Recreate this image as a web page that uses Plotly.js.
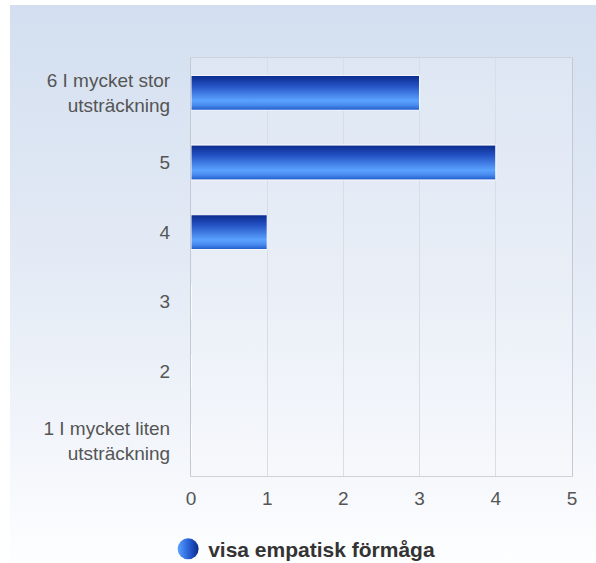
<!DOCTYPE html>
<html>
<head>
<meta charset="utf-8">
<script src="https://cdn.plot.ly/plotly-3.0.1.min.js"></script>
<style>
html,body{margin:0;padding:0;background:#fff;}
#bg{position:absolute;left:10px;top:5px;width:586px;height:558px;
 background:linear-gradient(to bottom,#d3dff0 0%,#e3eaf5 45%,#f3f6fb 80%,#fdfeff 100%);}
#chart{position:absolute;left:0;top:0;width:596px;height:563px;}
</style>
</head>
<body>
<div id="bg"></div>
<div id="chart"></div>
<script>
const categories = ["1 I mycket liten<br>utsträckning", "2", "3", "4", "5", "6 I mycket stor<br>utsträckning"];
const values = [0, 0, 0, 1, 4, 3];
const seriesName = "visa empatisk förmåga";
const xTicks = [0, 1, 2, 3, 4, 5];

const traces = [
  {
    type: 'bar', orientation: 'h',
    y: categories, x: values,
    name: seriesName, showlegend: false,
    marker: {color: '#3a78e0', line: {color: '#ffffff', width: 1}},
    hoverinfo: 'x+y'
  },
  {
    type: 'scatter', mode: 'markers',
    x: [null], y: [null],
    name: seriesName, showlegend: true,
    marker: {symbol: 'circle', size: 16, color: '#2a66d8'}
  }
];

const layout = {
  width: 596, height: 563,
  margin: {l: 191, r: 24, t: 58, b: 87, autoexpand: false},
  paper_bgcolor: 'rgba(0,0,0,0)',
  plot_bgcolor: 'rgba(255,255,255,0.18)',
  bargap: 0.5,
  font: {family: 'Liberation Sans, Arial, sans-serif', size: 19, color: '#555555'},
  xaxis: {
    range: [0, 5], tickvals: xTicks, ticktext: xTicks.map(String),
    showgrid: true, gridcolor: '#d9dde4', gridwidth: 1,
    zeroline: false, showline: true, mirror: true, linecolor: '#cfd2d8', linewidth: 1,
    ticks: '', ticklabelstandoff: 5, fixedrange: true
  },
  yaxis: {
    type: 'category', categoryorder: 'array', categoryarray: categories,
    range: [-0.5, 5.5],
    showgrid: false, zeroline: false, showline: true, mirror: true,
    linecolor: '#c4c8d0', linewidth: 1,
    ticks: '', ticklabelstandoff: 16, fixedrange: true
  },
  showlegend: true,
  legend: {
    orientation: 'h', x: -0.060, xanchor: 'left', y: -0.175, yanchor: 'middle',
    font: {family: 'Liberation Sans, Arial, sans-serif', size: 21, color: '#333333', weight: 'bold'},
    bgcolor: 'rgba(0,0,0,0)'
  }
};

Plotly.newPlot('chart', traces, layout, {displayModeBar: false, staticPlot: true}).then(function(gd){
  const svg = gd.querySelector('svg.main-svg');
  const ns = 'http://www.w3.org/2000/svg';
  let defs = svg.querySelector('defs');
  if (!defs) { defs = document.createElementNS(ns, 'defs'); svg.insertBefore(defs, svg.firstChild); }
  function grad(id, x2, y2, stops){
    const g = document.createElementNS(ns, 'linearGradient');
    g.setAttribute('id', id);
    g.setAttribute('x1', '0'); g.setAttribute('y1', '0');
    g.setAttribute('x2', x2); g.setAttribute('y2', y2);
    stops.forEach(function(s){
      const st = document.createElementNS(ns, 'stop');
      st.setAttribute('offset', s[0]); st.setAttribute('stop-color', s[1]);
      g.appendChild(st);
    });
    defs.appendChild(g);
  }
  grad('barGrad', '0', '1', [['0','#0a2a8c'],['0.3','#2452c4'],['0.72','#5aa2ff'],['0.85','#4a8cf0'],['1','#1e5ac8']]);
  grad('legGrad', '1', '0', [['0','#5aa2ff'],['0.5','#2a64d8'],['1','#0a2a8c']]);
  gd.querySelectorAll('.barlayer .point path').forEach(function(p){ p.style.fill = 'url(#barGrad)'; });
  gd.querySelectorAll('.legend path.scatterpts').forEach(function(p){
    p.setAttribute('d', 'M10.5,0A10.5,10.5 0 1,1 0,-10.5A10.5,10.5 0 0,1 10.5,0Z');
    p.style.fill = 'url(#legGrad)';
  });
});
</script>
</body>
</html>
